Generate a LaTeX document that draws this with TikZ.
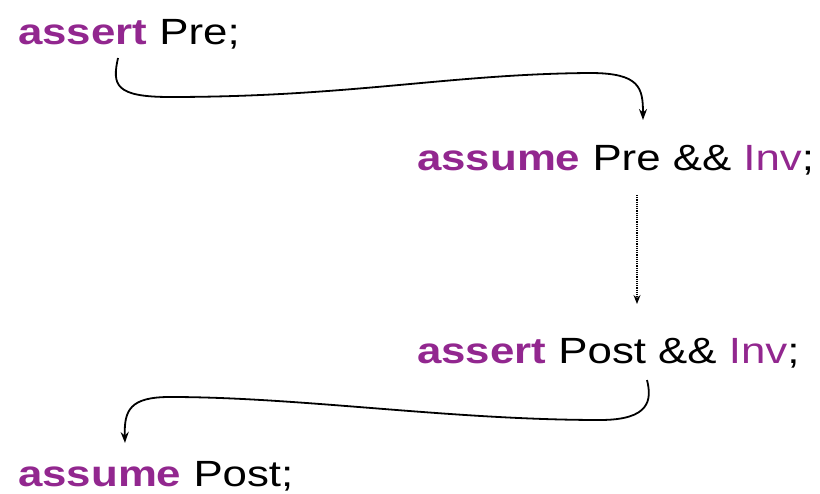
\documentclass[tikz,border=0pt]{standalone}
\usepackage{fontspec}
\setmainfont{Liberation Sans}[FakeStretch=1.2]
\usetikzlibrary{arrows.meta}
\definecolor{kw}{RGB}{146,39,143}
\begin{document}
\begin{tikzpicture}[x=1pt,y=-1pt,
  stmt/.style={anchor=base west,inner sep=0pt,font=\fontsize{36.5}{42}\selectfont},
  flow/.style={line width=1.8pt,-{Stealth[length=11pt,width=8pt]}},
  dotflow/.style={line width=1.2pt,densely dotted,-{Stealth[length=9pt,width=7pt]}}]
\useasboundingbox (0,0) rectangle (820,494);
\newcommand{\kwd}[1]{\textcolor{kw}{\bfseries #1}}
\node[stmt] (n1) at (18,45) {\kwd{assert} Pre;};
\node[stmt] (n2) at (417,171) {\kwd{assume} Pre \&\& \textcolor{kw}{Inv};};
\node[stmt] (n3) at (417,364) {\kwd{assert} Post \&\& \textcolor{kw}{Inv};};
\node[stmt] (n4) at (18,486) {\kwd{assume} Post;};
\coordinate (a1) at (118,58);
\coordinate (a2) at (643,120);
\draw[flow] (a1) .. controls (112,85) and (115,97) .. (170,97)
  .. controls (350,97) and (450,74) .. (590,73)
  .. controls (640,73) and (643,88) .. (a2);
\coordinate (b1) at (637,195);
\coordinate (b2) at (637,304);
\draw[dotflow] (b1) -- (b2);
\coordinate (c1) at (647,380);
\coordinate (c2) at (125,443);
\draw[flow] (c1) .. controls (652,400) and (650,420) .. (600,420)
  .. controls (450,420) and (300,397) .. (170,397)
  .. controls (130,397) and (124,410) .. (c2);
\end{tikzpicture}
\end{document}
